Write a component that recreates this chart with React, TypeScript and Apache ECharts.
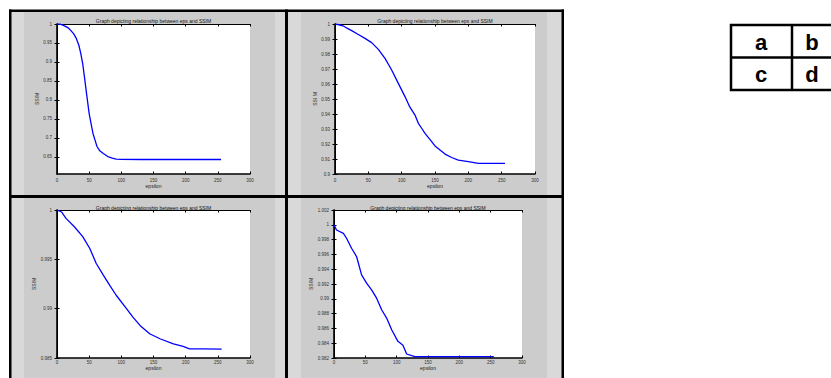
import React, { useEffect, useRef } from "react";
import * as echarts from "echarts";

const titleText = "Graph depicting relationship between eps and SSIM";
const xName = "epsilon";
const yNames = ["SSIM", "SSI M", "SSIM", "SSIM"];
const xTicks = [0, 50, 100, 150, 200, 250, 300];

// panel a
const epsA = [0, 5, 9, 14, 18, 22, 26, 30, 34, 37, 40, 43, 46, 50, 53, 56, 59, 62, 66, 72, 79, 86, 92, 100, 130, 180, 255];
const ssimA = [1.0, 0.9995, 0.997, 0.993, 0.989, 0.982, 0.974, 0.962, 0.944, 0.922, 0.895, 0.856, 0.816, 0.764, 0.737, 0.711, 0.695, 0.678, 0.667, 0.659, 0.651, 0.647, 0.644, 0.6435, 0.6432, 0.6432, 0.6432];
// panel b
const epsB = [0, 6, 12, 18, 25, 35, 45, 55, 65, 75, 85, 95, 105, 112, 120, 125, 130, 135, 145, 150, 158, 165, 175, 185, 200, 215, 230, 255];
const ssimB = [1.0, 0.9995, 0.9988, 0.9972, 0.9956, 0.993, 0.9904, 0.9876, 0.9831, 0.9771, 0.9693, 0.9604, 0.9516, 0.9449, 0.9393, 0.9338, 0.9305, 0.9271, 0.9216, 0.9187, 0.9158, 0.9133, 0.911, 0.9093, 0.9082, 0.9071, 0.9071, 0.9071];
// panel c
const epsC = [0, 7, 14, 27, 40, 51, 61, 72, 82, 92, 108, 118, 129, 144, 160, 181, 196, 206, 227, 256];
const ssimC = [1.0, 0.9998, 0.99915, 0.9983, 0.9973, 0.9961, 0.99458, 0.9934, 0.99237, 0.99136, 0.99, 0.98915, 0.9883, 0.98746, 0.98695, 0.98644, 0.98617, 0.98593, 0.98593, 0.9859];
// panel d
const epsD = [0, 4, 15, 20, 28, 36, 44, 52, 60, 68, 76, 84, 92, 102, 110, 116, 124, 129, 255];
const ssimD = [1.0, 0.9993, 0.99885, 0.99818, 0.99683, 0.99571, 0.99324, 0.99211, 0.99121, 0.99009, 0.98852, 0.98739, 0.98582, 0.98425, 0.98371, 0.98254, 0.98231, 0.98218, 0.98218];

const yTicksA = [0.65, 0.7, 0.75, 0.8, 0.85, 0.9, 0.95, 1];
const yTicksB = [0.9, 0.91, 0.92, 0.93, 0.94, 0.95, 0.96, 0.97, 0.98, 0.99, 1];
const yTicksC = [0.985, 0.99, 0.995, 1];
const yTicksD = [0.982, 0.984, 0.986, 0.988, 0.99, 0.992, 0.994, 0.996, 0.998, 1, 1.002];
const yMins = [0.605, 0.9, 0.985, 0.982];
const yMaxs = [1, 1, 1, 1.002];

const tableLetters = ["a", "b", "c", "d"];

const FONT = "Liberation Sans";

export default function App() {
  const ref = useRef<HTMLDivElement>(null);
  useEffect(() => {
    if (!ref.current) return;
    const chart = echarts.init(ref.current, undefined, { renderer: "svg" });

    const grids = [
      { left: 57, top: 24, width: 193, height: 150 },
      { left: 335, top: 24, width: 200, height: 150 },
      { left: 57, top: 210, width: 193, height: 148 },
      { left: 334, top: 210, width: 188, height: 148 },
    ];
    const eps = [epsA, epsB, epsC, epsD];
    const ssim = [ssimA, ssimB, ssimC, ssimD];
    const yTicks = [yTicksA, yTicksB, yTicksC, yTicksD];
    const xLabelMargin = [4, 4, 2, 2];
    const xNameGap = [9.5, 9.5, 6.5, 6.5];
    const titleGap = [0.5, 0.5, 0, 0];
    const yNameGap = [18, 16, 18, 18];
    const fmt = (v: any) => String(parseFloat(Number(v).toFixed(4)));

    const xAxis: any[] = [];
    const yAxis: any[] = [];
    const series: any[] = [];
    grids.forEach((g, i) => {
      xAxis.push({
        type: "value",
        gridIndex: i,
        position: "bottom",
        min: 0,
        max: 300,
        interval: 50,
        name: xName,
        nameLocation: "middle",
        nameGap: xNameGap[i],
        nameTextStyle: { fontSize: 5, color: "#222", fontFamily: FONT },
        axisLine: { show: true, lineStyle: { color: "#000", width: 1.6 } },
        axisTick: { show: true, inside: true, length: 2.5, customValues: xTicks, lineStyle: { color: "#000", width: 1 } },
        axisLabel: { fontSize: 4.5, color: "#333", margin: xLabelMargin[i], fontFamily: FONT, customValues: xTicks, formatter: fmt },
        splitLine: { show: false },
      });
      yAxis.push({
        type: "value",
        gridIndex: i,
        position: "left",
        min: yMins[i],
        max: yMaxs[i],
        name: yNames[i],
        nameLocation: "middle",
        nameRotate: 90,
        nameGap: yNameGap[i],
        nameTextStyle: { fontSize: 5, color: "#222", fontFamily: FONT },
        axisLine: { show: true, lineStyle: { color: "#000", width: 1.6 } },
        axisTick: { show: true, inside: true, length: 2.5, customValues: yTicks[i], lineStyle: { color: "#000", width: 1 } },
        axisLabel: { fontSize: 4.5, color: "#333", margin: 5, fontFamily: FONT, customValues: yTicks[i], formatter: fmt, showMinLabel: true, showMaxLabel: true },
        splitLine: { show: false },
      });
      series.push({
        type: "line",
        xAxisIndex: i,
        yAxisIndex: i,
        data: eps[i].map((e, k) => [e, ssim[i][k]]),
        showSymbol: false,
        symbol: "none",
        lineStyle: { color: "#0000ff", width: 1.3 },
        z: 3,
      });
    });
    grids.forEach((g, i) => {
      xAxis.push({
        type: "value",
        gridIndex: i,
        position: "top",
        min: 0,
        max: 300,
        interval: 50,
        name: titleText,
        nameLocation: "middle",
        nameGap: titleGap[i],
        nameTextStyle: { fontSize: 5, color: "#111", fontFamily: FONT },
        axisLine: { show: true, lineStyle: { color: "#000", width: 1 } },
        axisTick: { show: true, inside: true, length: 2.5, customValues: xTicks, lineStyle: { color: "#000", width: 1 } },
        axisLabel: { show: false },
        splitLine: { show: false },
      });
      yAxis.push({
        type: "value",
        gridIndex: i,
        position: "right",
        min: yMins[i],
        max: yMaxs[i],
        axisLine: { show: true, lineStyle: { color: "#000", width: 1 } },
        axisTick: { show: true, inside: true, length: 2.5, customValues: yTicks[i], lineStyle: { color: "#000", width: 1 } },
        axisLabel: { show: false },
        splitLine: { show: false },
      });
    });

    const dark = "#cccccc";
    const light = "#d9d9d9";
    const bg: any[] = [
      { type: "rect", z: -100, shape: { x: 11, y: 12, width: 551, height: 366 }, style: { fill: dark } },
      { type: "rect", z: -99, shape: { x: 11, y: 12, width: 13, height: 366 }, style: { fill: light } },
      { type: "rect", z: -99, shape: { x: 275, y: 12, width: 10, height: 366 }, style: { fill: light } },
      { type: "rect", z: -99, shape: { x: 288, y: 12, width: 13, height: 366 }, style: { fill: light } },
      { type: "rect", z: -99, shape: { x: 547, y: 12, width: 15, height: 366 }, style: { fill: light } },
      { type: "rect", z: 50, shape: { x: 9, y: 9.5, width: 555, height: 2.5 }, style: { fill: "#000" } },
      { type: "rect", z: 50, shape: { x: 9, y: 9.5, width: 2.5, height: 369 }, style: { fill: "#000" } },
      { type: "rect", z: 50, shape: { x: 561.5, y: 9.5, width: 2.5, height: 369 }, style: { fill: "#000" } },
      { type: "rect", z: 50, shape: { x: 285, y: 9.5, width: 3, height: 369 }, style: { fill: "#000" } },
      { type: "rect", z: 50, shape: { x: 9, y: 195, width: 555, height: 3 }, style: { fill: "#000" } },
      // table
      { type: "rect", z: 50, shape: { x: 731, y: 25, width: 140, height: 65 }, style: { fill: "none", stroke: "#000", lineWidth: 2.5 } },
      { type: "line", z: 50, shape: { x1: 731, y1: 57.5, x2: 871, y2: 57.5 }, style: { stroke: "#000", lineWidth: 2.5 } },
      { type: "line", z: 50, shape: { x1: 792, y1: 25, x2: 792, y2: 90 }, style: { stroke: "#000", lineWidth: 2.5 } },
    ];
    const letterPos = [
      [761, 42],
      [812, 42],
      [761, 74.5],
      [812, 74.5],
    ];
    tableLetters.forEach((t, k) => {
      bg.push({
        type: "text",
        z: 51,
        x: letterPos[k][0],
        y: letterPos[k][1],
        style: { text: t, fill: "#000", font: `bold 22px "${FONT}"`, align: "center", verticalAlign: "middle" },
      });
    });

    chart.setOption({
      animation: false,
      backgroundColor: "#ffffff",
      grid: grids.map((g) => ({ ...g, show: true, backgroundColor: "#ffffff", borderWidth: 0, containLabel: false, outerBoundsMode: "none" })),
      xAxis,
      yAxis,
      series,
      graphic: { elements: bg },
    });
    return () => chart.dispose();
  }, []);
  return <div ref={ref} style={{ position: "fixed", left: 0, top: 0, width: 831, height: 378 }} />;
}
